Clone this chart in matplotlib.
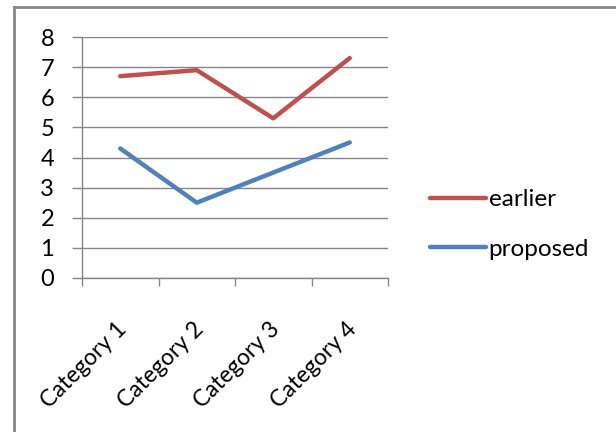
import matplotlib
matplotlib.use("Agg")
import matplotlib.pyplot as plt
from matplotlib.lines import Line2D
from matplotlib.transforms import ScaledTranslation

categories = ["Category 1", "Category 2", "Category 3", "Category 4"]
earlier = [6.7, 6.9, 5.3, 7.3]
proposed = [4.3, 2.5, 3.5, 4.5]
series_names = ["earlier", "proposed"]
y_ticks = [0, 1, 2, 3, 4, 5, 6, 7, 8]

plt.rcParams['font.family'] = ['Lato', 'DejaVu Sans']

W, H = 616, 432
fig = plt.figure(figsize=(W / 100, H / 100), dpi=100)
ax = fig.add_axes([82 / W, 1 - 278 / H, (388 - 82) / W, (278 - 37) / H])

grey = "#868686"
x = list(range(len(categories)))
ax.plot(x, earlier, color="#C0504D", lw=3.2, solid_capstyle="round", label=series_names[0])
ax.plot(x, proposed, color="#4F81BD", lw=3.2, solid_capstyle="round", label=series_names[1])

ax.set_xlim(-0.5, len(categories) - 0.5)
ax.set_ylim(0, 8)
ax.set_yticks(y_ticks)
ax.grid(axis="y", color=grey, lw=1)
ax.set_axisbelow(True)

ax.set_xticks([i - 0.5 for i in range(len(categories) + 1)])
ax.set_xticklabels([])
ax.set_xticks(x, minor=True)
ax.set_xticklabels(categories, minor=True, rotation=45, ha="right", va="top",
                   rotation_mode="anchor", fontsize=16.5, color="#000000")
ax.tick_params(axis="x", which="minor", length=0, pad=29)
ax.tick_params(axis="x", which="major", length=6, color=grey, width=1, direction="out")
ax.tick_params(axis="y", length=7, color=grey, width=1, labelsize=17, pad=13)
for lab in ax.get_xticklabels(minor=True):
    lab.set_transform(lab.get_transform() + ScaledTranslation(-4 / 100, 0, fig.dpi_scale_trans))

for s in ["top", "right"]:
    ax.spines[s].set_visible(False)
for s in ["left", "bottom"]:
    ax.spines[s].set_color(grey)
    ax.spines[s].set_linewidth(1)

# outer chart frame
fig.add_artist(Line2D([14 / W, 14 / W], [1 - 7 / H, 0], transform=fig.transFigure, color=grey, lw=2))
fig.add_artist(Line2D([14 / W, 1], [1 - 7 / H, 1 - 7 / H], transform=fig.transFigure, color=grey, lw=2))

leg = fig.legend(loc="center left", bbox_to_anchor=(408 / W, 1 - 224.5 / H), frameon=False,
                 fontsize=17.5, handlelength=2.3, handletextpad=0.12, labelspacing=1.18)

fig.savefig("out.png", dpi=100)
